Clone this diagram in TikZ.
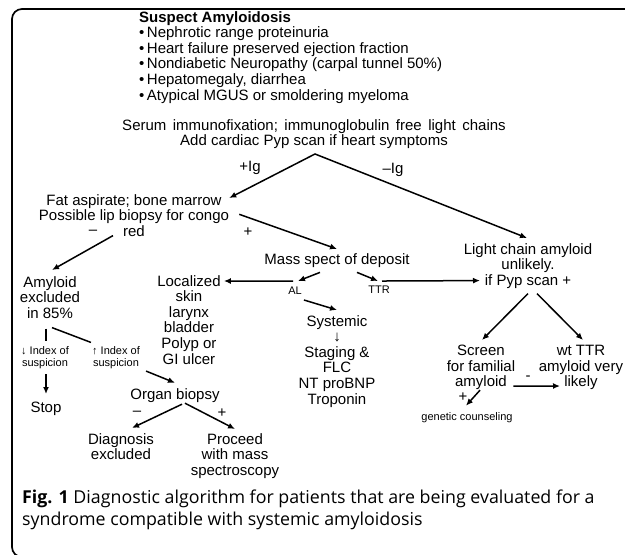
\documentclass[tikz,border=0pt]{standalone}
\usepackage{fontspec}
\setmainfont{Liberation Sans}
\newfontfamily\capfont{Open Sans}
\usetikzlibrary{calc,arrows.meta}
\tikzstyle{flowarrow} = [line width=1.5pt,-{Latex[length=7pt,width=6pt]}]
\tikzstyle{flowboth} = [line width=1.5pt,{Latex[length=7pt,width=6pt]}-{Latex[length=7pt,width=6pt]}]
\tikzstyle{flowline} = [line width=1.5pt]
\tikzstyle{stepnode} = [inner sep=0pt, align=center, font=\fontsize{15}{15.6}\selectfont]
\tikzstyle{smallnode} = [inner sep=0pt, align=center, font=\fontsize{11}{11.5}\selectfont]

\begin{document}
\begin{tikzpicture}[x=1pt,y=-1pt]
\useasboundingbox (0,0) rectangle (625,555);
\clip (0,0) rectangle (625,555);
% frame
\draw[line width=1.7pt, rounded corners=10pt] (660,9) -- (12,9) -- (12,557) -- (660,557);

% top part
\node[stepnode, anchor=north west, align=left] (susp) at (139,11) {\textbf{Suspect Amyloidosis}\\
  \textbullet\,Nephrotic range proteinuria\\
  \textbullet\,Heart failure preserved ejection fraction\\
  \textbullet\,Nondiabetic Neuropathy (carpal tunnel 50\%)\\
  \textbullet\,Hepatomegaly, diarrhea\\
  \textbullet\,Atypical MGUS or smoldering myeloma};
\node[stepnode, anchor=north] (serum) at (314,119) {\spaceskip=6.5pt Serum immunofixation; immunoglobulin free light chains\\Add cardiac Pyp scan if heart symptoms};
\coordinate (apex) at ($(serum.south)+(1,5)$);
\node[stepnode] (plusig) at (250,168) {+Ig};
\node[stepnode] (minusig) at (393,170) {--Ig};

% left branch
\node[stepnode, anchor=north] (fat) at (134,194) {Fat aspirate; bone marrow\\Possible lip biopsy for congo\\red};
\node[stepnode] (fatneg) at (93,232) {--};
\node[stepnode] (fatpos) at (248,232) {+};
\node[stepnode, anchor=north] (mass) at (337,253) {Mass spect of deposit};
\node[stepnode, anchor=north] (amyl) at (50,276) {Amyloid\\excluded\\in 85\%};
\node[stepnode, anchor=north] (local) at (189,275) {Localized\\skin\\larynx\\bladder\\Polyp or\\GI ulcer};
\node[smallnode] (al) at (295,291) {AL};
\node[smallnode] (ttr) at (379,290) {TTR};
\node[stepnode, anchor=north] (sys) at (337,315) {Systemic\\↓\\Staging \&\\FLC\\NT proBNP\\Troponin};
\node[smallnode] (idxdn) at (45,357.5) {↓ Index of\\suspicion};
\node[smallnode] (idxup) at (116,357.5) {↑ Index of\\suspicion};
\node[stepnode] (stop) at (46,409) {Stop};
\node[stepnode] (organ) at (175,396) {Organ biopsy};
\node[stepnode] (orgneg) at (137,413) {--};
\node[stepnode] (orgpos) at (222,413) {+};
\node[stepnode, anchor=north] (diag) at (121,433) {Diagnosis\\excluded};
\node[stepnode, anchor=north] (proc) at (235,433) {Proceed\\with mass\\spectroscopy};

% right branch
\node[stepnode, anchor=north] (lca) at (528,243) {Light chain amyloid\\unlikely.\\if Pyp scan +};
\node[stepnode, anchor=north] (screen) at (481,345) {Screen\\for familial\\amyloid};
\node[stepnode, anchor=north] (wttr) at (581,345) {wt TTR\\amyloid very\\likely};
\node[stepnode] (scrneg) at (528,378) {-};
\node[stepnode] (scrpos) at (463,397) {+};
\node[smallnode] (gen) at (467,418) {genetic counseling};

% caption
\node[anchor=north west, inner sep=0pt, align=left, font=\capfont\fontsize{17.8}{22}\selectfont] (caption) at (22,490) {\textbf{Fig. 1} Diagnostic algorithm for patients that are being evaluated for a\\syndrome compatible with systemic amyloidosis};

% connectors
\draw[flowboth] ($(fat.north east)+(0,4)$) -- (apex) -- ($(lca.north)+(-1,-5)$);
\draw[flowarrow] ($(fat.east)+(10,-1)$) -- ($(mass.north)+(0,-4)$);
\draw[flowarrow] ($(fat.south)+(-21,-1)$) -- ($(amyl.north)+(2,-6)$);
\draw[flowarrow] ($(mass.south)+(-17,5)$) -- ($(al.north)+(3,-6)$);
\draw[flowarrow] ($(al.north)+(-2,-6)$) -- ($(local.north east)+(3,6)$);
\draw[flowarrow] ($(mass.south)+(20,5)$) -- ($(ttr.north)+(-1,-5)$);
\draw[flowarrow] ($(ttr.north)+(3,-5)$) -- ($(lca.south)+(-48,-8)$);
\draw[flowarrow] ($(al.south east)+(2,5)$) -- ($(sys.north)+(0,-5)$);
\draw[flowarrow] ($(lca.south)+(0,5)$) -- ($(screen.north)+(1,-5)$);
\draw[flowarrow] ($(lca.south)+(9,5)$) -- ($(wttr.north)+(2,-5)$);
\draw[flowarrow] ($(screen.east)+(-2,18.5)$) -- ($(wttr.south)+(-21,-4)$);
\draw[flowarrow] ($(screen.south)+(-1,0)$) -- ($(gen.north)+(-1,-7)$);
\draw[flowline] ($(amyl.south)+(-4,10)$) -- ($(idxdn.north)+(1,-5)$);
\draw[flowline] ($(amyl.south)+(2,9)$) -- ($(idxup.north west)+(-1,-4)$);
\draw[flowarrow] ($(idxdn.south)+(1,5.5)$) -- ($(stop.north)+(0,-8)$);
\draw[flowarrow] ($(idxup.south east)+(6,2.5)$) -- ($(organ.north)+(0,-6)$);
\draw[flowarrow] ($(organ.south)+(7,1)$) -- ($(diag.north)+(11,-5)$);
\draw[flowarrow] ($(organ.south)+(10,0)$) -- ($(proc.north)+(0,-4)$);
\end{tikzpicture}
\end{document}
